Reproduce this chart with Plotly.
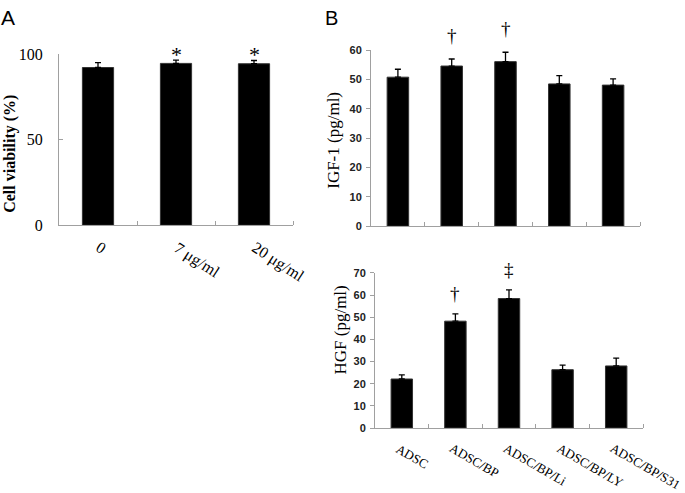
import plotly.graph_objects as go

# Panel A
a_cats = ["0", "7 μg/ml", "20 μg/ml"]
a_vals = [92.3, 94.7, 94.5]
a_err = [2.8, 1.9, 1.9]
a_marks = ["", "*", "*"]

# Panel B
b_cats = ["ADSC", "ADSC/BP", "ADSC/BP/Li", "ADSC/BP/LY", "ADSC/BP/S31"]
igf_vals = [50.8, 54.6, 56.1, 48.5, 48.1]
igf_err = [2.7, 2.4, 3.2, 2.8, 2.1]
igf_marks = ["", "†", "†", "", ""]
hgf_vals = [22.1, 48.2, 58.4, 26.3, 28.0]
hgf_err = [1.9, 3.3, 3.9, 2.1, 3.5]
hgf_marks = ["", "†", "‡", "", ""]

W, H = 685, 493
def px(x):
    return x / W
def py(y):
    return 1 - y / H

fig = go.Figure()

def add_bars(cats, vals, errs, xa, ya):
    fig.add_trace(go.Bar(
        x=list(range(len(cats))), y=vals, width=0.4,
        marker=dict(color="black", line=dict(color="#333", width=1)),
        error_y=dict(type="data", array=errs, arrayminus=[0] * len(errs),
                     symmetric=False, color="black", thickness=1.3, width=3),
        xaxis=xa, yaxis=ya, showlegend=False, hoverinfo="skip"))

add_bars(a_cats, a_vals, a_err, "x", "y")
add_bars(b_cats, igf_vals, igf_err, "x2", "y2")
add_bars(b_cats, hgf_vals, hgf_err, "x3", "y3")

serif = "Liberation Serif, Times New Roman, serif"
sans = "Liberation Sans, Arial, sans-serif"
axcol = "#a0a0a0"

def xaxis_cfg(n, dom, ya):
    return dict(domain=dom, anchor=ya, range=[-0.5, n - 0.5],
                tickmode="array", tickvals=list(range(n)), ticktext=[""] * n,
                showline=True, linecolor=axcol, linewidth=1,
                ticks="", showgrid=False, zeroline=False,
                minor=dict(tickmode="array", tickvals=[i + 0.5 for i in range(n)],
                           ticks="inside", ticklen=4, tickcolor=axcol, showgrid=False))

def yaxis_cfg(dom, xa, rng, dtick, font, ticks, standoff):
    return dict(domain=dom, anchor=xa, range=rng, dtick=dtick,
                showline=True, linecolor=axcol, linewidth=1,
                ticks=ticks, ticklen=4, tickcolor=axcol, ticklabelstandoff=standoff,
                showgrid=False, zeroline=False, tickfont=font)

fig.update_layout(
    width=W, height=H, margin=dict(l=0, r=0, t=0, b=0),
    paper_bgcolor="white", plot_bgcolor="white",
    xaxis=xaxis_cfg(len(a_cats), [px(59), px(293)], "y"),
    yaxis=yaxis_cfg([py(225), py(48)], "x", [0, 100], 50,
                    dict(family=serif, size=16, color="black"), "inside", 12),
    xaxis2=xaxis_cfg(len(b_cats), [px(371), px(640)], "y2"),
    yaxis2=yaxis_cfg([py(226), py(43.7)], "x2", [0, 60], 10,
                     dict(family=sans, size=11, color="#222", weight="bold"), "outside", 2),
    xaxis3=xaxis_cfg(len(b_cats), [px(375), px(643)], "y3"),
    yaxis3=yaxis_cfg([py(435), py(274.3)], "x3", [0, 70], 10,
                     dict(family=sans, size=11, color="#222", weight="bold"), "outside", 2),
)

anns = []
def marks(vals, errs, mk, xr, yr, off, size):
    for i, m in enumerate(mk):
        if m:
            anns.append(dict(x=i, y=vals[i] + errs[i], xref=xr, yref=yr, text=m,
                             showarrow=False, xanchor="center", yanchor="bottom", yshift=off,
                             font=dict(family=serif, size=size, color="black")))

marks(a_vals, a_err, a_marks, "x", "y", -9, 22)
marks(igf_vals, igf_err, igf_marks, "x2", "y2", 11, 19)
marks(hgf_vals, hgf_err, hgf_marks, "x3", "y3", 8, 19)

# rotated category labels
def cat_labels(cats, xr, ytop, angle, size, shift):
    for i, c in enumerate(cats):
        anns.append(dict(x=i, y=py(ytop), xref=xr, yref="paper", text=c, textangle=angle,
                         showarrow=False, xanchor="left", yanchor="top", xshift=shift,
                         font=dict(family=serif, size=size, color="black")))

cat_labels(a_cats, "x", 235.8, 33, 16, -8)
cat_labels(b_cats, "x3", 445.5, 30, 13, -11)

def title(text, x, y, size):
    anns.append(dict(x=px(x), y=py(y), xref="paper", yref="paper", text=text,
                     textangle=-90, showarrow=False, xanchor="center", yanchor="middle",
                     font=dict(family=serif, size=size, color="black")))

title("<b>Cell viability (%)</b>", 10, 151, 16)
title("IGF-1 (pg/ml)", 333.5, 137, 17)
title("HGF (pg/ml)", 339.5, 333.5, 17)

anns += [
    dict(x=px(7.5), y=py(10), xref="paper", yref="paper", text="A",
         showarrow=False, xanchor="center", yanchor="middle",
         font=dict(family=sans, size=21, color="black")),
    dict(x=px(331.5), y=py(10), xref="paper", yref="paper", text="B",
         showarrow=False, xanchor="center", yanchor="middle",
         font=dict(family=sans, size=20, color="black")),
]
fig.update_layout(annotations=anns)

# remove the browser's default 8px body margin so the figure fills the window
fig.write_html("out.html", config={"displayModeBar": False},
               post_script="document.body.style.margin='0';")
